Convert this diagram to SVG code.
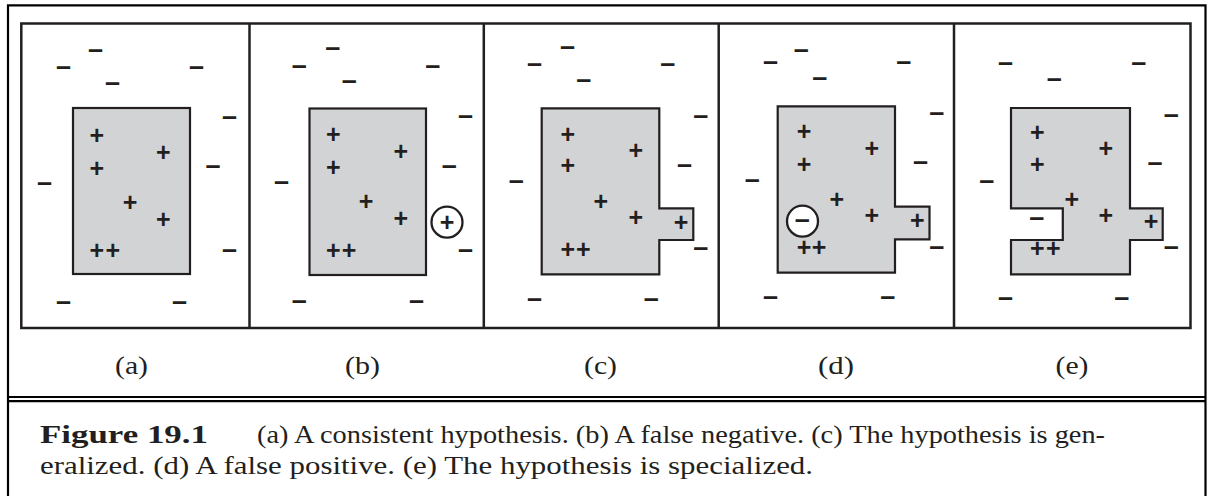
<svg xmlns="http://www.w3.org/2000/svg" width="1212" height="496" viewBox="0 0 1212 496">
<style>
.bg{fill:#ffffff}
.frame{fill:none;stroke:#000;stroke-width:2.2}
.box{fill:none;stroke:#231f20;stroke-width:2.5}
.div{stroke:#231f20;stroke-width:2.5}
.h{fill:#d2d3d5;stroke:#231f20;stroke-width:2.2;stroke-linejoin:miter}
.ring{fill:none;stroke:#231f20;stroke-width:2.3}
.ringw{fill:#fff;stroke:#231f20;stroke-width:2.3}
.p{font-family:"Liberation Sans",Arial,sans-serif;font-weight:bold;font-size:25px;fill:#231f20;text-anchor:middle}
.m{font-family:"Liberation Sans",Arial,sans-serif;font-weight:bold;font-size:27px;fill:#231f20;text-anchor:middle}
.lab{font-family:"Liberation Serif","Times New Roman",serif;font-size:26px;fill:#231f20}
.cap{font-family:"Liberation Serif","Times New Roman",serif;font-size:24.5px;fill:#231f20}
.capb{font-weight:bold}
</style>
<rect class="bg" x="0" y="0" width="1212" height="496"/>
<g id="frame">
<path class="frame" d="M8,497 V5.3 H1205.5 V497"/>
<line class="frame" x1="8" y1="397" x2="1205.5" y2="397" stroke-width="2.4"/>
<line class="frame" x1="8" y1="401.2" x2="1205.5" y2="401.2" stroke-width="2"/>
<rect class="box" x="21.3" y="23.5" width="1169.2" height="304.5"/>
<line class="div" x1="249.5" y1="23.5" x2="249.5" y2="328"/>
<line class="div" x1="483.8" y1="23.5" x2="483.8" y2="328"/>
<line class="div" x1="718.7" y1="23.5" x2="718.7" y2="328"/>
<line class="div" x1="954" y1="23.5" x2="954" y2="328"/>
</g>
<g id="connectors"/>
<g id="panel-a">
<rect class="h" x="73" y="108" width="117" height="166"/>
<text class="m" x="95.5" y="57.6">–</text>
<text class="m" x="63.5" y="74.6">–</text>
<text class="m" x="196.5" y="74.6">–</text>
<text class="m" x="112.5" y="90.9">–</text>
<text class="m" x="229.5" y="124.9">–</text>
<text class="m" x="213" y="173.9">–</text>
<text class="m" x="44.5" y="190.9">–</text>
<text class="m" x="229.5" y="257.9">–</text>
<text class="m" x="63.5" y="309.9">–</text>
<text class="m" x="179.5" y="309.9">–</text>
<text class="p" x="96.7" y="143.7">+</text>
<text class="p" x="163.3" y="161">+</text>
<text class="p" x="96.7" y="177">+</text>
<text class="p" x="130" y="211">+</text>
<text class="p" x="163.3" y="227.7">+</text>
<text class="p" x="96.7 112.7" y="259.4">++</text>
<text class="lab" x="115" y="374" textLength="33" lengthAdjust="spacingAndGlyphs">(a)</text>
</g>
<g id="panel-b">
<rect class="h" x="309.5" y="108.5" width="116.5" height="166.5"/>
<text class="m" x="332.8" y="56.2">–</text>
<text class="m" x="299.3" y="73.6">–</text>
<text class="m" x="432.8" y="73.6">–</text>
<text class="m" x="349.2" y="89.2">–</text>
<text class="m" x="465.5" y="124.2">–</text>
<text class="m" x="449.2" y="173.6">–</text>
<text class="m" x="281.5" y="190.2">–</text>
<text class="m" x="465.5" y="257.6">–</text>
<text class="m" x="299.3" y="308.6">–</text>
<text class="m" x="416.5" y="308.6">–</text>
<text class="p" x="333.3" y="143">+</text>
<text class="p" x="400.7" y="160.4">+</text>
<text class="p" x="333.3" y="176.4">+</text>
<text class="p" x="366" y="210.4">+</text>
<text class="p" x="400.7" y="227">+</text>
<text class="p" x="333.3 349" y="259.4">++</text>
<circle class="ring" cx="447" cy="222.2" r="15.5"/>
<text class="p" x="447" y="230.9">+</text>
<text class="lab" x="345" y="374" textLength="35" lengthAdjust="spacingAndGlyphs">(b)</text>
</g>
<g id="panel-c">
<path class="h" d="M541.7,108.3 H659.3 V208.3 H693.3 V240 H659.3 V274.3 H541.7 Z"/>
<text class="m" x="567.5" y="55.2">–</text>
<text class="m" x="534.5" y="71.9">–</text>
<text class="m" x="667.8" y="71.9">–</text>
<text class="m" x="583.8" y="87.9">–</text>
<text class="m" x="700.8" y="123.6">–</text>
<text class="m" x="684.5" y="172.6">–</text>
<text class="m" x="516.3" y="189.2">–</text>
<text class="m" x="700.8" y="256.2">–</text>
<text class="m" x="534.5" y="306.9">–</text>
<text class="m" x="651.2" y="306.9">–</text>
<text class="p" x="567.7" y="142.7">+</text>
<text class="p" x="635.7" y="159.4">+</text>
<text class="p" x="567.7" y="174.4">+</text>
<text class="p" x="600.7" y="209.7">+</text>
<text class="p" x="635.7" y="226">+</text>
<text class="p" x="567.7 583.3" y="258">++</text>
<text class="p" x="681" y="231.4">+</text>
<text class="lab" x="584" y="374" textLength="33" lengthAdjust="spacingAndGlyphs">(c)</text>
</g>
<g id="panel-d">
<path class="h" d="M777.7,106.3 H895 V206.7 H929.5 V239.3 H895 V272.7 H777.7 Z"/>
<text class="m" x="801.2" y="57.6">–</text>
<text class="m" x="770.5" y="70.2">–</text>
<text class="m" x="903.8" y="70.2">–</text>
<text class="m" x="819.7" y="86.2">–</text>
<text class="m" x="936.7" y="121.2">–</text>
<text class="m" x="920.5" y="170.2">–</text>
<text class="m" x="752.2" y="187.6">–</text>
<text class="m" x="936.7" y="254.6">–</text>
<text class="m" x="770.5" y="305.2">–</text>
<text class="m" x="887.8" y="305.2">–</text>
<text class="p" x="804" y="140.4">+</text>
<text class="p" x="871.7" y="157">+</text>
<text class="p" x="804" y="172.7">+</text>
<text class="p" x="836.7" y="208">+</text>
<text class="p" x="871.7" y="223.7">+</text>
<text class="p" x="804 819" y="256.4">++</text>
<text class="p" x="917.3" y="229.4">+</text>
<circle class="ringw" cx="802.5" cy="221.2" r="15.5"/>
<text class="m" x="802.2" y="228.4">–</text>
<text class="lab" x="818" y="374" textLength="36" lengthAdjust="spacingAndGlyphs">(d)</text>
</g>
<g id="panel-e">
<path class="h" d="M1011,108 H1130 V208.3 H1162.7 V240 H1130 V274.3 H1011 V240 H1062.8 V208.3 H1011 Z"/>
<text class="m" x="1005.5" y="70.9">–</text>
<text class="m" x="1138.8" y="70.9">–</text>
<text class="m" x="1054.2" y="86.9">–</text>
<text class="m" x="1171.3" y="122.6">–</text>
<text class="m" x="1155" y="171.2">–</text>
<text class="m" x="986.7" y="188.6">–</text>
<text class="m" x="1171.3" y="255.2">–</text>
<text class="m" x="1005.5" y="305.9">–</text>
<text class="m" x="1121.7" y="305.9">–</text>
<text class="m" x="1036.7" y="225.9">–</text>
<text class="p" x="1037.3" y="141.4">+</text>
<text class="p" x="1105.7" y="157">+</text>
<text class="p" x="1037.3" y="173">+</text>
<text class="p" x="1071.7" y="208">+</text>
<text class="p" x="1105.7" y="224.4">+</text>
<text class="p" x="1037.3 1053.3" y="257">++</text>
<text class="p" x="1151" y="230.4">+</text>
<text class="lab" x="1055.5" y="374" textLength="33" lengthAdjust="spacingAndGlyphs">(e)</text>
</g>
<g id="caption">
<text class="cap capb" x="40" y="443" textLength="168" lengthAdjust="spacingAndGlyphs">Figure 19.1</text>
<text class="cap" x="257" y="443" textLength="848" lengthAdjust="spacingAndGlyphs">(a) A consistent hypothesis. (b) A false negative. (c) The hypothesis is gen-</text>
<text class="cap" x="40" y="474" textLength="773" lengthAdjust="spacingAndGlyphs">eralized. (d) A false positive. (e) The hypothesis is specialized.</text>
</g>
</svg>
